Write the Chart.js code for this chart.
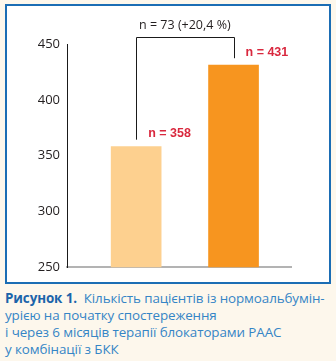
<!DOCTYPE html>
<html>
<head>
<meta charset="utf-8">
<script src="https://cdn.jsdelivr.net/npm/chart.js@4.4.1/dist/chart.umd.min.js"></script>
<style>
  html, body { margin: 0; padding: 0; }
  body { width: 336px; height: 361px; background: #fdf7ec; position: relative; overflow: hidden; }
  #frame {
    position: absolute; left: 5px; top: 4px; width: 322px; height: 276px;
    border: 2px solid #1b6db4; background: #fff;
  }
  #frame canvas { position: absolute; left: 0; top: 0; }
  #caption {
    position: absolute; left: 5px; top: 290px; width: 334px; white-space: nowrap;
    font-family: "Open Sans", sans-serif; font-size: 13.4px; line-height: 17px;
    color: #3585c6; letter-spacing: -0.1px;
  }
  #caption b { color: #1b64aa; font-weight: 700; }
</style>
</head>
<body>
<div id="frame"><canvas id="chart" width="322" height="276"></canvas></div>
<div id="caption"><b>Рисунок 1.</b>&nbsp; Кількість пацієнтів із нормоальбумін-<br>урією на початку спостереження<br>і через 6 місяців терапії блокаторами РААС<br>у комбінації з БКК</div>

<script>
const categories = ["На початку", "Через 6 місяців"];
const patients = [358, 431];
const barColors = ["#fdd08f", "#f7951f"];
const yTicks = [250, 300, 350, 400, 450];

// bracket with the difference between the two bars, and the n = ... labels
const annotations = {
  id: "annotations",
  afterDatasetsDraw(chart) {
    const ctx = chart.ctx;
    const bars = chart.getDatasetMeta(0).data;
    const top = chart.chartArea.top - 7;

    ctx.save();
    ctx.strokeStyle = "#1a1a1a";
    ctx.lineWidth = 1;
    ctx.beginPath();
    ctx.moveTo(Math.round(bars[0].x) + 0.5, bars[0].y - 7);
    ctx.lineTo(Math.round(bars[0].x) + 0.5, top + 0.5);
    ctx.lineTo(Math.round(bars[1].x) + 0.5, top + 0.5);
    ctx.lineTo(Math.round(bars[1].x) + 0.5, bars[1].y - 7);
    ctx.stroke();

    const diff = patients[1] - patients[0];
    const pct = (diff / patients[0] * 100).toFixed(1).replace(".", ",");
    ctx.fillStyle = "#231f20";
    ctx.font = '12.5px "Open Sans", sans-serif';
    ctx.textAlign = "center";
    ctx.textBaseline = "middle";
    ctx.fillText(`n = ${diff} (+${pct} %)`, (bars[0].x + bars[1].x) / 2, top - 12);

    ctx.fillStyle = "#d9283e";
    ctx.font = 'bold 12.5px "Liberation Sans", sans-serif';
    ctx.textAlign = "left";
    bars.forEach((bar, i) => {
      ctx.fillText(`n = ${patients[i]}`, bar.x + 12, bar.y - 13);
    });
    ctx.restore();
  }
};

new Chart(document.getElementById("chart"), {
  type: "bar",
  data: {
    labels: categories,
    datasets: [{
      data: patients.map((v, i) => ({ x: i, y: v })),
      backgroundColor: barColors,
      barThickness: 50,
      borderWidth: 0,
    }],
  },
  options: {
    responsive: false,
    animation: false,
    layout: { padding: { left: 0, top: 38, right: 38, bottom: 12 } },
    plugins: { legend: { display: false }, tooltip: { enabled: false } },
    scales: {
      x: {
        type: "linear",
        offset: false,
        min: -0.71,
        max: 1.59,
        grid: { display: false, drawTicks: false },
        ticks: { display: false },
        border: { display: true, color: "#b3b3b3", width: 2 },
        afterFit: (scale) => { scale.height = 0; },
      },
      y: {
        min: 250,
        max: 450,
        afterBuildTicks: (scale) => { scale.ticks = yTicks.map(v => ({ value: v })); },
        grid: { display: false, drawTicks: false },
        border: { display: true, color: "#1a1a1a", width: 1 },
        ticks: {
          padding: 7,
          color: "#231f20",
          font: { family: "Open Sans", size: 13 },
        },
        afterFit: (scale) => { scale.width = 60; },
      },
    },
  },
  plugins: [annotations],
});
</script>
</body>
</html>
